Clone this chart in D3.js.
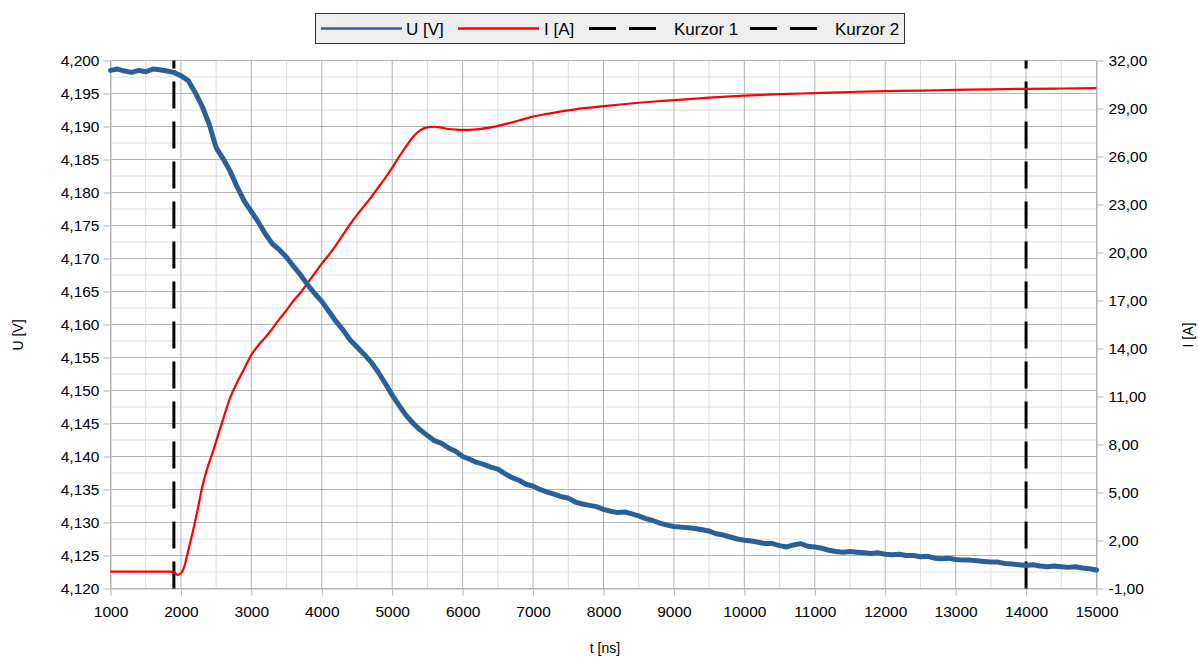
<!DOCTYPE html>
<html>
<head>
<meta charset="utf-8">
<script src="https://cdn.jsdelivr.net/npm/d3@7"></script>
<style>
  html, body { margin: 0; padding: 0; background: #ffffff; }
  svg { display: block; font-family: "Liberation Sans", Arial, sans-serif; }
</style>
</head>
<body>
<svg id="chart" width="1198" height="657"></svg>
<script>
// Time axis samples of the voltage trace [ns]
const timeU = d3.range(1000, 15001, 100);
// Voltage U [V], one reading every 100 ns
const voltage = [
  4.1985, 4.1987, 4.1984, 4.1982, 4.1985, 4.1983, 4.1987, 4.1986, 4.1984, 4.1982,
  4.1977, 4.1970, 4.1952, 4.1931, 4.1904, 4.1868, 4.1851, 4.1832, 4.1808, 4.1787,
  4.1771, 4.1755, 4.1737, 4.1722, 4.1713, 4.1702, 4.1688, 4.1675, 4.1660, 4.1647,
  4.1635, 4.1620, 4.1605, 4.1592, 4.1577, 4.1566, 4.1555, 4.1543, 4.1528, 4.1511,
  4.1493, 4.1477, 4.1462, 4.1450, 4.1440, 4.1432, 4.1424, 4.1420, 4.1413, 4.1408,
  4.1400, 4.1396, 4.1391, 4.1388, 4.1384, 4.1381, 4.1374, 4.1368, 4.1364, 4.1358,
  4.1355, 4.1350, 4.1346, 4.1343, 4.1339, 4.1337, 4.1331, 4.1328, 4.1326, 4.1324,
  4.1320, 4.1317, 4.1315, 4.1316, 4.1313, 4.1310, 4.1306, 4.1303, 4.1299, 4.1296,
  4.1294, 4.1293, 4.1292, 4.1291, 4.1289, 4.1287, 4.1283, 4.1281, 4.1278, 4.1275,
  4.1273, 4.1272, 4.1270, 4.1268, 4.1268, 4.1265, 4.1263, 4.1266, 4.1268, 4.1264,
  4.1263, 4.1261, 4.1258, 4.1256, 4.1255, 4.1256, 4.1255, 4.1254, 4.1253, 4.1254,
  4.1252, 4.1251, 4.1252, 4.1250, 4.1250, 4.1248, 4.1249, 4.1246, 4.1245, 4.1246,
  4.1244, 4.1243, 4.1243, 4.1242, 4.1241, 4.1240, 4.1240, 4.1238, 4.1237, 4.1236,
  4.1235, 4.1236, 4.1234, 4.1233, 4.1234, 4.1233, 4.1232, 4.1233, 4.1231, 4.1230,
  4.1228
];

// Current I [A] at its sampled times [ns]
const timeI = [
  1000, 1500, 1850, 1900, 1950, 2000, 2050, 2100, 2150, 2200, 2250, 2300, 2350, 2400,
  2450, 2500, 2600, 2700, 2800, 2900, 3000, 3100, 3200, 3300, 3400, 3500, 3600, 3700,
  3800, 3900, 4000, 4100, 4200, 4300, 4400, 4500, 4600, 4700, 4800, 4900, 5000, 5100,
  5200, 5300, 5400, 5500, 5600, 5700, 5800, 5900, 6000, 6200, 6400, 6600, 6800, 7000,
  7200, 7400, 7600, 7800, 8000, 8500, 9000, 9500, 10000, 10500, 11000, 11500, 12000,
  12500, 13000, 13500, 14000, 14500, 15000
];
const current = [
  0.05, 0.05, 0.05, 0.02, -0.15, -0.05, 0.4, 1.3, 2.2, 3.15, 4.2, 5.3, 6.15, 6.85,
  7.5, 8.2, 9.6, 10.95, 11.9, 12.75, 13.6, 14.2, 14.7, 15.25, 15.85, 16.4, 17.0, 17.5,
  18.1, 18.7, 19.3, 19.85, 20.45, 21.1, 21.75, 22.35, 22.9, 23.45, 24.05, 24.65, 25.3, 26.0,
  26.65, 27.25, 27.65, 27.82, 27.86, 27.8, 27.72, 27.68, 27.66, 27.7, 27.82, 28.02, 28.25, 28.5,
  28.66, 28.82, 28.95, 29.05, 29.15, 29.36, 29.52, 29.68, 29.8, 29.9, 29.96, 30.03, 30.08,
  30.12, 30.16, 30.2, 30.23, 30.25, 30.27
];

// Cursor positions [ns]
const cursors = [1900, 14000];
const cursorNames = ["Kurzor 1", "Kurzor 2"];

// Tick values
const xTicks = d3.range(1000, 15001, 1000);
const uTicks = d3.range(0, 17).map(i => 4.12 + i * 0.005);
const iTicks = d3.range(0, 12).map(i => -1 + i * 3);

const svg = d3.select("#chart");
const plotL = 110.5, plotR = 1096.5, plotT = 60.5, plotB = 588.5;

const x = d3.scaleLinear().domain([1000, 15000]).range([plotL, plotR]);
const yU = d3.scaleLinear().domain([4.12, 4.2]).range([plotB, plotT]);
const yI = d3.scaleLinear().domain([-1, 32]).range([plotB, plotT]);

const fmtU = v => d3.format(".3f")(v).replace(".", ",");
const fmtI = v => d3.format(".2f")(v).replace(".", ",").replace("\u2212", "-");

const grid = svg.append("g");
// minor grid lines
grid.selectAll(".vminor").data(d3.range(1500, 15000, 1000)).join("line")
  .attr("x1", d => x(d)).attr("x2", d => x(d)).attr("y1", plotT).attr("y2", plotB)
  .attr("stroke", "#dddddd").attr("stroke-width", 1);
grid.selectAll(".hminor").data(d3.range(0, 16).map(i => 4.1225 + i * 0.005)).join("line")
  .attr("x1", plotL).attr("x2", plotR).attr("y1", d => yU(d)).attr("y2", d => yU(d))
  .attr("stroke", "#dddddd").attr("stroke-width", 1);
// major grid lines
grid.selectAll(".vmajor").data(xTicks).join("line")
  .attr("x1", d => x(d)).attr("x2", d => x(d)).attr("y1", plotT).attr("y2", plotB)
  .attr("stroke", "#b3b3b3").attr("stroke-width", 1);
grid.selectAll(".hmajor").data(uTicks).join("line")
  .attr("x1", plotL).attr("x2", plotR).attr("y1", d => yU(d)).attr("y2", d => yU(d))
  .attr("stroke", "#b3b3b3").attr("stroke-width", 1);

// axes
function styleAxis(g) {
  g.select(".domain").attr("stroke", "#b3b3b3");
  g.selectAll(".tick line").attr("stroke", "#b3b3b3");
  g.selectAll(".tick text").attr("fill", "#000").attr("font-size", "15.5px")
    .attr("font-family", "'Liberation Sans', Arial, sans-serif");
}
svg.append("g").attr("transform", `translate(0,${plotB})`)
  .call(d3.axisBottom(x).tickValues(xTicks).tickFormat(d3.format("d")).tickSize(7).tickSizeOuter(0).tickPadding(10))
  .call(styleAxis);
svg.append("g").attr("transform", `translate(${plotL},0)`)
  .call(d3.axisLeft(yU).tickValues(uTicks).tickFormat(fmtU).tickSize(7).tickSizeOuter(0).tickPadding(4))
  .call(styleAxis);
svg.append("g").attr("transform", `translate(${plotR},0)`)
  .call(d3.axisRight(yI).tickValues(iTicks).tickFormat(fmtI).tickSize(7).tickSizeOuter(0).tickPadding(5))
  .call(styleAxis);

// axis titles
svg.append("text").attr("x", 605).attr("y", 653).attr("text-anchor", "middle")
  .attr("font-size", "14px").text("t [ns]");
svg.append("text").attr("transform", "translate(23,335) rotate(-90)").attr("text-anchor", "middle")
  .attr("font-size", "14px").text("U [V]");
svg.append("text").attr("transform", "translate(1193,335) rotate(-90)").attr("text-anchor", "middle")
  .attr("font-size", "14px").text("I [A]");

// cursor lines (dash pattern runs from the bottom up)
svg.selectAll(".cursor").data(cursors).join("line")
  .attr("x1", d => x(d)).attr("x2", d => x(d))
  .attr("y1", plotB).attr("y2", plotT)
  .attr("stroke", "#000").attr("stroke-width", 3).attr("stroke-dasharray", "27,13");

// current trace
const lineI = d3.line().x((d, i) => x(timeI[i])).y(d => yI(d)).curve(d3.curveMonotoneX);
svg.append("path").datum(current).attr("d", lineI)
  .attr("fill", "none").attr("stroke", "#ff0000").attr("stroke-width", 2.2);

// voltage trace
const lineU = d3.line().x((d, i) => x(timeU[i])).y(d => yU(d));
svg.append("path").datum(voltage).attr("d", lineU)
  .attr("fill", "none").attr("stroke", "#2a6099").attr("stroke-width", 5)
  .attr("stroke-linejoin", "round").attr("stroke-linecap", "round");

// legend
const legend = svg.append("g");
legend.append("rect").attr("x", 315.5).attr("y", 13.5).attr("width", 589).attr("height", 30)
  .attr("fill", "#eeeeee").attr("stroke", "#333333").attr("stroke-width", 1);
const legendItems = [
  { label: "U [V]", color: "#2a6099", dash: null, x0: 321, x1: 402, tx: 406 },
  { label: "I [A]", color: "#ff0000", dash: null, x0: 458, x1: 539, tx: 544 },
  { label: cursorNames[0], color: "#000", dash: "27,13", x0: 589, x1: 656, tx: 674 },
  { label: cursorNames[1], color: "#000", dash: "27,13", x0: 750, x1: 817, tx: 835 }
];
legendItems.forEach(it => {
  legend.append("line").attr("x1", it.x0).attr("x2", it.x1).attr("y1", 28.5).attr("y2", 28.5)
    .attr("stroke", it.color).attr("stroke-width", it.dash ? 3 : 2.5)
    .attr("stroke-dasharray", it.dash);
  legend.append("text").attr("x", it.tx).attr("y", 34.5).attr("font-size", "17px")
    .attr("fill", "#000").text(it.label);
});
</script>
</body>
</html>
